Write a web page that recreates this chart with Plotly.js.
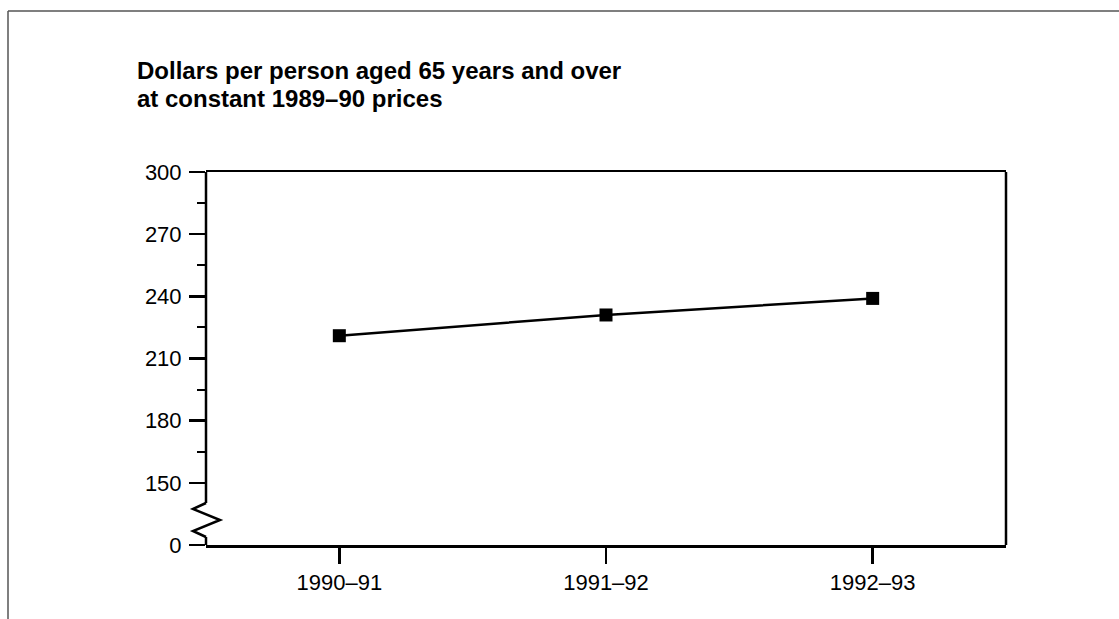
<!DOCTYPE html>
<html>
<head>
<meta charset="utf-8">
<script src="https://cdn.plot.ly/plotly-3.0.1.min.js"></script>
<style>html,body{margin:0;padding:0;background:#fff;}#chart{width:1119px;height:619px;}</style>
</head>
<body>
<div id="chart"></div>
<script>
// Data
var categories = ["1990\u201391", "1991\u201392", "1992\u201393"];
var values = [221, 231, 239];
var yTickVals = [120, 150, 180, 210, 240, 270, 300];
var yTickText = ["0", "150", "180", "210", "240", "270", "300"];
var yMinorVals = [165, 195, 225, 255, 285];
var titleLines = ["Dollars per person aged 65 years and over", "at constant 1989\u201390 prices"];

var W = 1119, H = 619;
var mL = 206, mR = 113, mT = 172, mB = 74;
var pw = W - mL - mR, ph = H - mT - mB;
function px(x) { return (x - mL) / pw; }
function py(y) { return (H - mB - y) / ph; }

var font = "Liberation Sans, Arial, sans-serif";

var trace = {
  x: categories, y: values, type: "scatter", mode: "lines+markers",
  line: {color: "#000", width: 2.5},
  marker: {symbol: "square", size: 13, color: "#000"},
  hoverinfo: "x+y"
};

var axisW = 2.5;
var breakPath = "M " + px(206) + "," + py(503) +
  " L " + px(193) + "," + py(509) +
  " L " + px(220) + "," + py(520) +
  " L " + px(193) + "," + py(531) +
  " L " + px(206) + "," + py(537);

var shapes = [
  {type: "line", xref: "paper", yref: "paper", x0: 0, x1: 0, y0: 1, y1: py(503), line: {color: "#000", width: axisW}},
  {type: "line", xref: "paper", yref: "paper", x0: 0, x1: 0, y0: py(537), y1: 0, line: {color: "#000", width: axisW}},
  {type: "line", xref: "paper", yref: "paper", x0: 1, x1: 1, y0: 0, y1: 1, line: {color: "#000", width: axisW}},
  {type: "path", xref: "paper", yref: "paper", path: breakPath, line: {color: "#000", width: 2.5}},
  {type: "line", xref: "paper", yref: "paper", x0: px(8), x1: px(1119), y0: py(11), y1: py(11), line: {color: "#555", width: 1.5}},
  {type: "line", xref: "paper", yref: "paper", x0: px(8), x1: px(8), y0: py(11), y1: py(619), line: {color: "#555", width: 1.5}}
];

var annotations = titleLines.map(function (t, i) {
  return {
    text: "<b>" + t + "</b>", xref: "paper", yref: "paper",
    x: px(135), y: py(70 + i * 28), xanchor: "left", yanchor: "middle",
    showarrow: false, font: {family: font, size: 24, color: "#000"}
  };
});

var layout = {
  width: W, height: H,
  margin: {l: mL, r: mR, t: mT, b: mB, pad: 0},
  paper_bgcolor: "#fff", plot_bgcolor: "#fff",
  showlegend: false,
  font: {family: font, size: 22, color: "#000"},
  xaxis: {
    type: "category", range: [-0.5, 2.5],
    showline: true, mirror: true, linecolor: "#000", linewidth: axisW,
    ticks: "outside", ticklen: 16, tickwidth: 2.5, tickcolor: "#000",
    showgrid: false, zeroline: false,
    tickfont: {family: font, size: 22, color: "#000"}
  },
  yaxis: {
    range: [120, 300], showline: false,
    tickmode: "array", tickvals: yTickVals, ticktext: yTickText,
    ticks: "outside", ticklen: 16, tickwidth: 2.5, tickcolor: "#000",
    ticklabelstandoff: 3,
    minor: {tickmode: "array", tickvals: yMinorVals, ticks: "outside", ticklen: 8, tickwidth: 2, tickcolor: "#000", showgrid: false},
    showgrid: false, zeroline: false,
    tickfont: {family: font, size: 22, color: "#000"}
  },
  shapes: shapes,
  annotations: annotations
};

Plotly.newPlot("chart", [trace], layout, {displayModeBar: false, staticPlot: true});
</script>
</body>
</html>
